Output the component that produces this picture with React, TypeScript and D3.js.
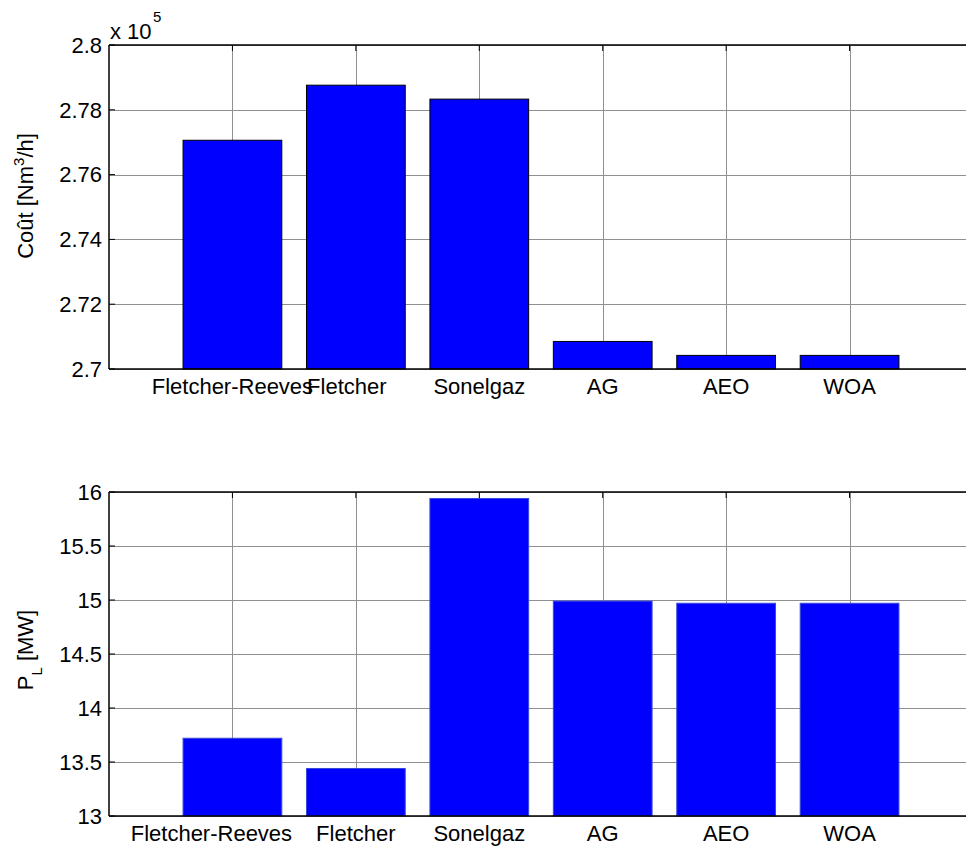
import React from "react";
import * as d3 from "d3";

const categories = ["Fletcher-Reeves", "Fletcher", "Sonelgaz", "AG", "AEO", "WOA"];
const costValues = [277060, 278760, 278330, 270850, 270420, 270420];
const lossValues = [13.72, 13.44, 15.94, 14.99, 14.97, 14.97];
const costTicks = [2.7, 2.72, 2.74, 2.76, 2.78, 2.8];
const costTickLabels = ["2.7", "2.72", "2.74", "2.76", "2.78", "2.8"];
const lossTicks = [13, 13.5, 14, 14.5, 15, 15.5, 16];
const lossTickLabels = ["13", "13.5", "14", "14.5", "15", "15.5", "16"];

// label nudges (layout only)
const TOP_LABEL_DX = [0, -9, 0, 0, 0, 0];
const BOTTOM_LABEL_DX = [-21, 0, 0, 0, 0, 0];

const W = 966;
const H = 851;
const FONT = "'Liberation Sans', Arial, sans-serif";
const FS = 22;

const x = d3.scaleLinear().domain([0, 7]).range([109, 973]);
const barW = x(0.8) - x(0);

type PanelProps = {
  top: number;
  bottom: number;
  domain: [number, number];
  values: number[];
  ticks: number[];
  tickLabels: string[];
  labelDx: number[];
  barStroke: string;
  ylabel: React.ReactNode;
  ylabelY: number;
};

function Panel({ top, bottom, domain, values, ticks, tickLabels, labelDx, barStroke, ylabel, ylabelY }: PanelProps) {
  const y = d3.scaleLinear().domain(domain).range([bottom, top]);
  const left = x(0);
  const right = x(7);
  const grid = "#8f8f8f";
  return (
    <g>
      {ticks.map((t, i) => (
        <line key={"gy" + i} x1={left} x2={right} y1={Math.round(y(t)) + 0.5} y2={Math.round(y(t)) + 0.5} stroke={grid} strokeWidth={1} />
      ))}
      {categories.map((c, i) => (
        <line key={"gx" + i} x1={Math.round(x(i + 1)) + 0.5} x2={Math.round(x(i + 1)) + 0.5} y1={top} y2={bottom} stroke={grid} strokeWidth={1} />
      ))}
      {values.map((v, i) => (
        <rect
          key={"b" + i}
          x={x(i + 1) - barW / 2}
          y={y(v)}
          width={barW}
          height={bottom - y(v)}
          fill="#0000ff"
          stroke={barStroke}
          strokeWidth={1}
        />
      ))}
      {ticks.map((t, i) => (
        <g key={"ty" + i}>
          <line x1={left} x2={left + 6} y1={y(t)} y2={y(t)} stroke="#000" strokeWidth={1} />
          <line x1={right} x2={right - 6} y1={y(t)} y2={y(t)} stroke="#000" strokeWidth={1} />
          <text x={left - 7} y={y(t)} dy="0.35em" textAnchor="end" fontFamily={FONT} fontSize={FS} fill="#000">
            {tickLabels[i]}
          </text>
        </g>
      ))}
      {categories.map((c, i) => (
        <g key={"tx" + i}>
          <line x1={x(i + 1)} x2={x(i + 1)} y1={top} y2={top + 6} stroke="#000" strokeWidth={1} />
          <text
            x={x(i + 1) + labelDx[i]}
            y={bottom + 25}
            textAnchor="middle"
            fontFamily={FONT}
            fontSize={FS}
            fill="#000"
          >
            {c}
          </text>
        </g>
      ))}
      <line x1={left} x2={right} y1={top} y2={top} stroke="#000" strokeWidth={1.5} />
      <line x1={left} x2={right} y1={bottom} y2={bottom} stroke="#000" strokeWidth={1.5} />
      <line x1={left} x2={left} y1={top} y2={bottom} stroke="#000" strokeWidth={1.5} />
      <line x1={right} x2={right} y1={top} y2={bottom} stroke="#000" strokeWidth={1.5} />
      <text
        transform={`translate(33,${ylabelY}) rotate(-90)`}
        textAnchor="middle"
        fontFamily={FONT}
        fontSize={FS}
        fill="#000"
      >
        {ylabel}
      </text>
    </g>
  );
}

export default function App() {
  const scaled = costValues.map((v) => v / 1e5);
  return (
    <svg width={W} height={H} style={{ display: "block", position: "absolute", left: 0, top: 0, background: "#fff" }}>
      <rect x={0} y={0} width={W} height={H} fill="#fff" />
      <Panel
        top={45}
        bottom={369}
        domain={[2.7, 2.8]}
        values={scaled}
        ticks={costTicks}
        tickLabels={costTickLabels}
        labelDx={TOP_LABEL_DX}
        barStroke="#000"
        ylabelY={196}
        ylabel={
          <>
            <tspan>Coût [Nm</tspan>
            <tspan dy={-9} fontSize={15}>3</tspan>
            <tspan dy={9}>/h]</tspan>
          </>
        }
      />
      <text x={110} y={39} fontFamily={FONT} fontSize={FS} fill="#000">
        x 10
      </text>
      <text x={153} y={22} fontFamily={FONT} fontSize={15} fill="#000">
        5
      </text>
      <Panel
        top={492}
        bottom={816}
        domain={[13, 16]}
        values={lossValues}
        ticks={lossTicks}
        tickLabels={lossTickLabels}
        labelDx={BOTTOM_LABEL_DX}
        barStroke="#3a4ad8"
        ylabelY={650}
        ylabel={
          <>
            <tspan>P</tspan>
            <tspan dy={9} fontSize={15}>L</tspan>
            <tspan dy={-9}> [MW]</tspan>
          </>
        }
      />
    </svg>
  );
}
